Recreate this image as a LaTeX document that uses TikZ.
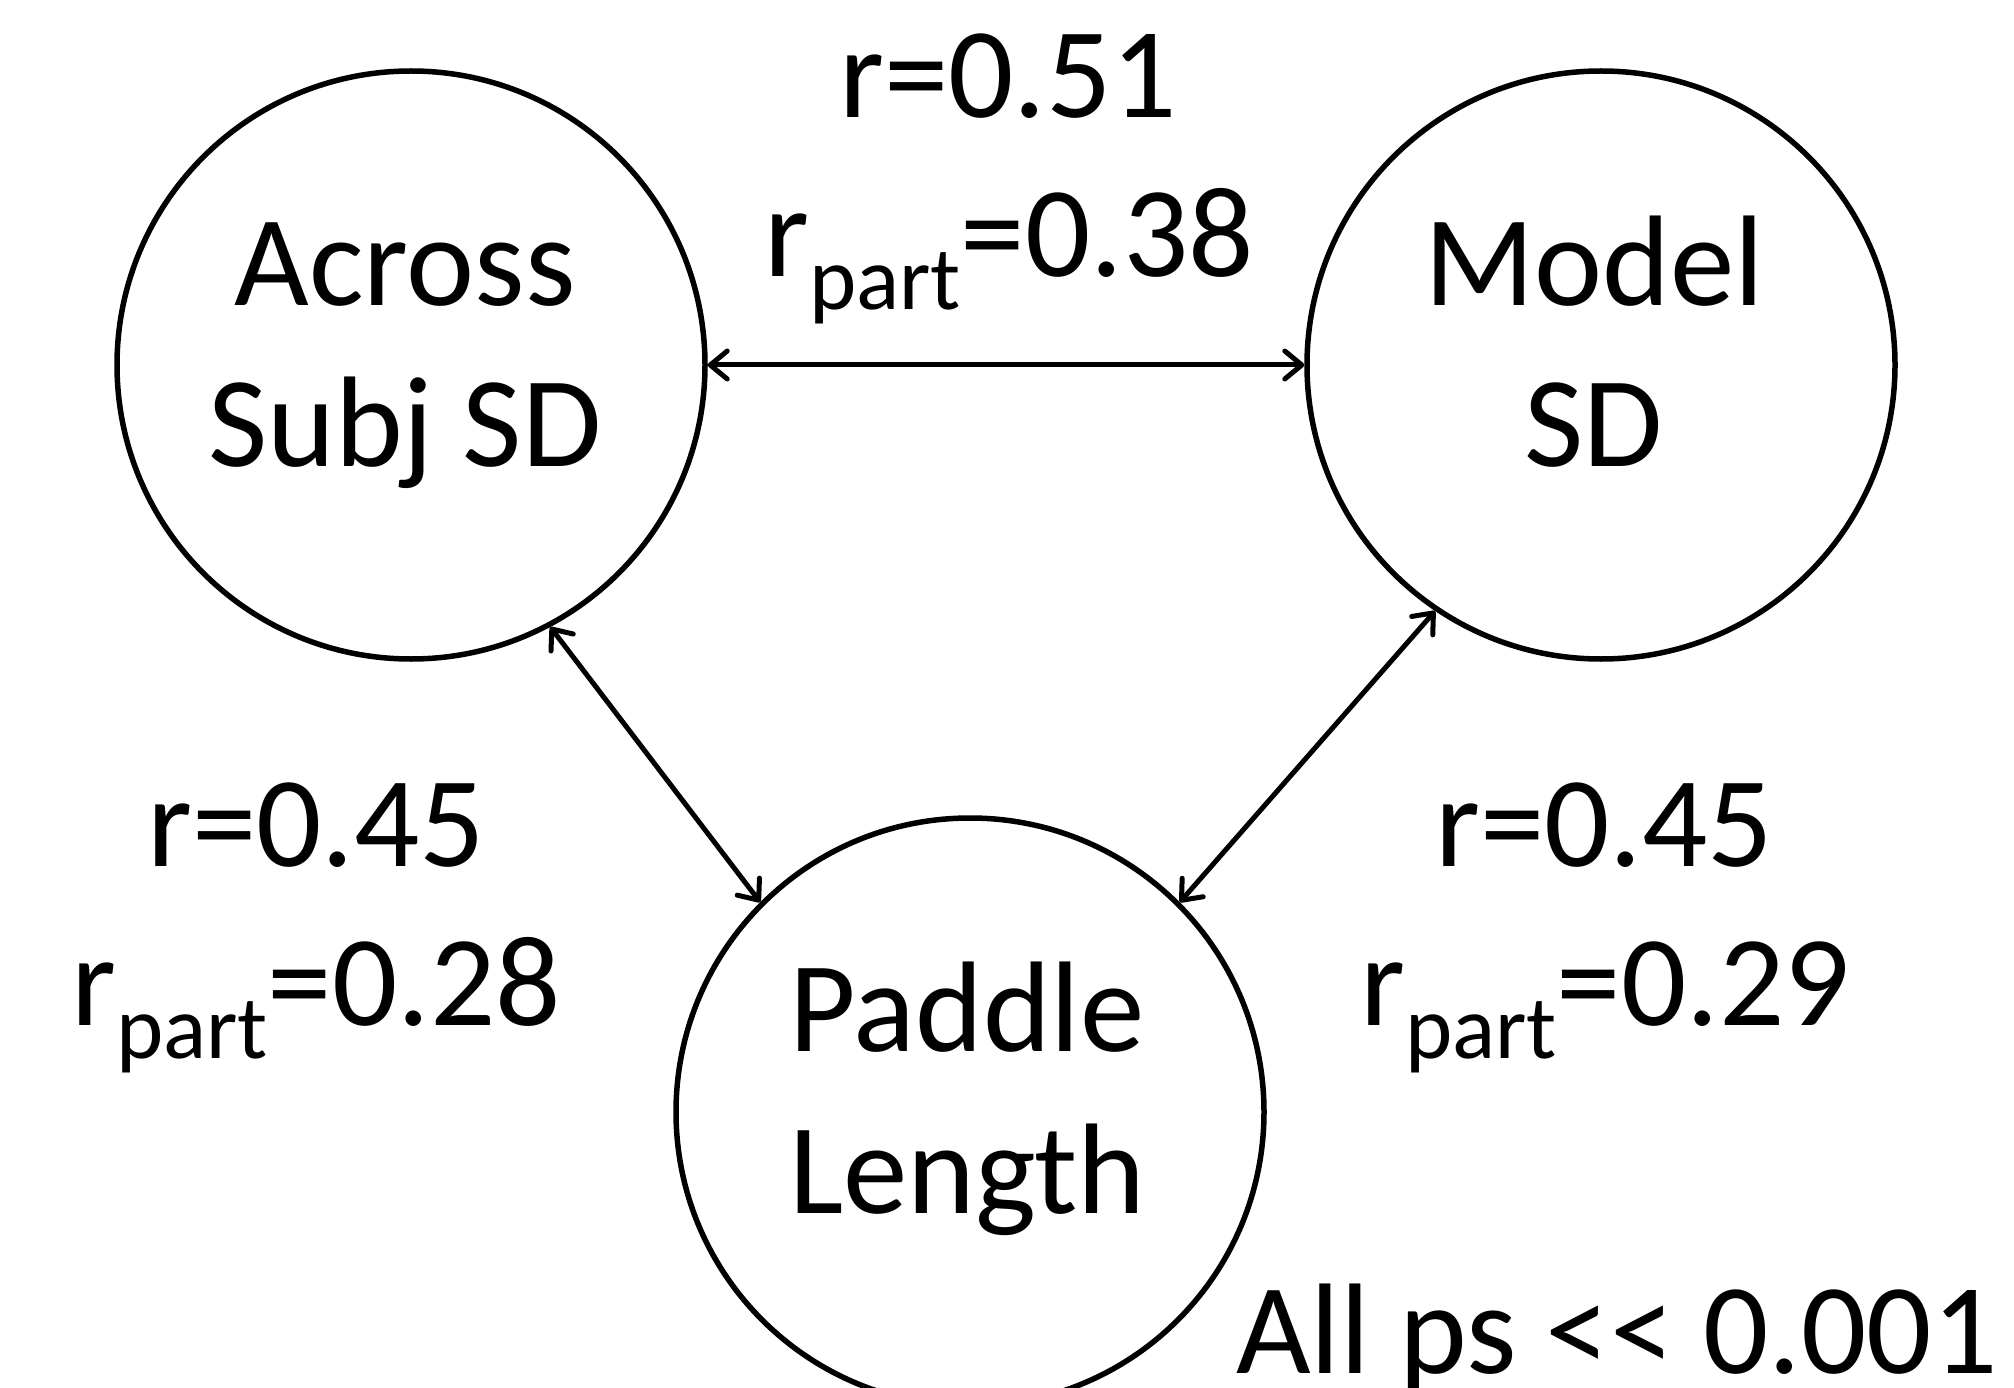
\documentclass[tikz,border=0pt]{standalone}
\usepackage{fontspec}
\setmainfont{Carlito}
\usetikzlibrary{arrows.meta}
\newcommand\rpartsub{r\raisebox{-33pt}{\fontsize{90}{90}\selectfont part}}
\begin{document}
\begin{tikzpicture}[x=1pt,y=-1pt,
  var/.style={circle,draw,line width=5.5pt,inner sep=0pt,minimum size=588pt},
  big/.style={inner sep=0pt,anchor=base,font=\fontsize{129}{155}\selectfont},
  barb/.tip={Straight Barb[length=17pt,width=28pt,line cap=round,line join=round]},
  link/.style={line width=5pt,barb-barb}]
\useasboundingbox[fill=white] (0,0) rectangle (2014,1388);
\node[var] (across) at (411,365) {};
\node[var] (model) at (1601,365) {};
\node[var] (paddle) at (970,1112) {};
% node texts
\node[big] (acrossA) at (405,306) {Across};
\node[big] (acrossB) at (405,466) {Subj SD};
\node[big] (modelA) at (1594,306) {Model};
\node[big] (modelB) at (1594,466) {SD};
\node[big] (paddleA) at (967,1051) {Paddle};
\node[big] (paddleB) at (967,1213) {Length};
% connectors
\draw[link] (across.east) -- (model.west);
\draw[link] (across.-62.4) -- (paddle.135);
\draw[link] (model.-124.7) -- (paddle.45);
% labels
\node[big] (topr) at (1008,118) {r=0.51};
\node[big] (toprp) at (1009,277) {\rpartsub=0.38};
\node[big] (leftr) at (316,866) {r=0.45};
\node[big] (leftrp) at (316,1025) {\rpartsub=0.28};
\node[big] (rightr) at (1604,866) {r=0.45};
\node[big] (rightrp) at (1605,1025) {\rpartsub=0.29};
\node[big] (allps) at (1617,1373) {All ps <\kern0pt< 0.001};
\end{tikzpicture}
\end{document}
